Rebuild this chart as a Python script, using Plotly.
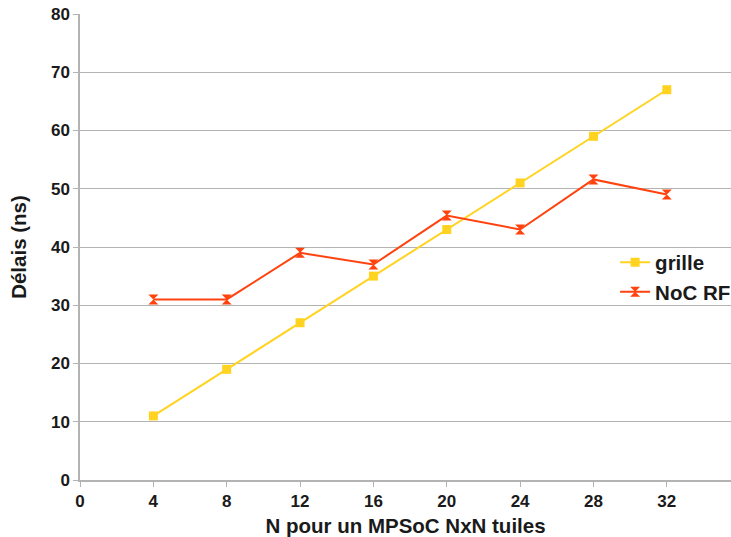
import plotly.graph_objects as go

x_vals = [4, 8, 12, 16, 20, 24, 28, 32]
grille = [11, 19, 27, 35, 43, 51, 59, 67]
noc_rf = [31, 31, 39, 37, 45.4, 43, 51.6, 49]
x_ticks = [0, 4, 8, 12, 16, 20, 24, 28, 32]
y_ticks = [0, 10, 20, 30, 40, 50, 60, 70, 80]

fig = go.Figure()
fig.add_trace(go.Scatter(x=x_vals, y=grille, name="<b>grille</b>", mode="lines+markers",
                         line=dict(color="#FFD320", width=2),
                         marker=dict(symbol="square", size=9, color="#FFD320")))
fig.add_trace(go.Scatter(x=x_vals, y=noc_rf, name="<b>NoC RF</b>", mode="lines+markers",
                         line=dict(color="#FF420E", width=2),
                         marker=dict(symbol="hourglass", size=10, color="#FF420E")))

fam = "Liberation Sans, Arial, sans-serif"
fig.update_layout(
    width=731, height=537,
    margin=dict(l=80, r=0, t=14, b=57, autoexpand=False),
    paper_bgcolor="white", plot_bgcolor="white",
    font=dict(family=fam, size=17, color="#1a1a1a"),
    legend=dict(x=0.822, y=0.51, xanchor="left", yanchor="top",
                bgcolor="rgba(0,0,0,0)", font=dict(size=20.5, family=fam, color="#1a1a1a"),
                tracegroupgap=0, itemwidth=30),
    xaxis=dict(range=[0, 35.5], tickvals=x_ticks, ticktext=[f"<b>{v}</b>" for v in x_ticks],
               showgrid=False, showline=True, linecolor="#b3b3b3", linewidth=1.5,
               ticks="outside", ticklen=5, tickcolor="#b3b3b3", zeroline=False,
               title=dict(text="<b>N pour un MPSoC NxN tuiles</b>", font=dict(size=20.5), standoff=12)),
    yaxis=dict(range=[0, 80], tickvals=y_ticks, ticktext=[f"<b>{v}</b>" for v in y_ticks],
               showgrid=True, gridcolor="#b3b3b3", gridwidth=1,
               showline=True, linecolor="#b3b3b3", linewidth=1.5,
               ticks="outside", ticklen=5, tickcolor="#b3b3b3", zeroline=False,
               title=dict(text="<b>Délais (ns)</b>", font=dict(size=20.5), standoff=19)),
    showlegend=True,
)
fig.write_html("out.html", config={"displayModeBar": False},
               post_script="document.body.style.margin='0';document.body.style.overflow='hidden';")
